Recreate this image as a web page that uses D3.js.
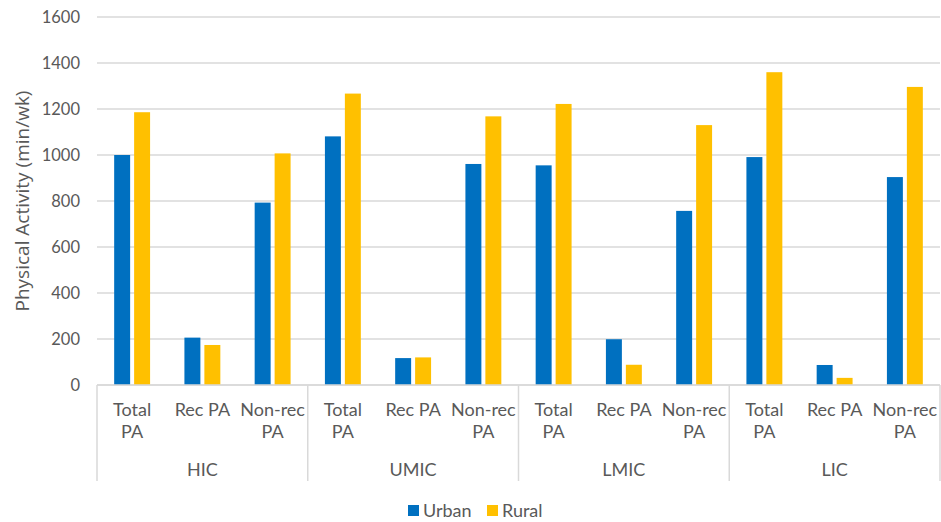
<!DOCTYPE html>
<html>
<head>
<meta charset="utf-8">
<script src="https://cdn.jsdelivr.net/npm/d3@7"></script>
<style>
  body { margin: 0; background: #fff; }
  svg { display: block; }
</style>
</head>
<body>
<div id="chart"></div>
<script>
const groups = ['HIC', 'UMIC', 'LMIC', 'LIC'];
const subcats = ['Total PA', 'Rec PA', 'Non-rec PA'];
const subLabels = [['Total', 'PA'], ['Rec PA'], ['Non-rec', 'PA']];
const seriesNames = ['Urban', 'Rural'];
const urban = [1000, 206, 793, 1081, 117, 961, 955, 199, 757, 991, 87, 904];
const rural = [1186, 174, 1007, 1267, 120, 1168, 1222, 88, 1130, 1360, 31, 1296];
const yTicks = [0, 200, 400, 600, 800, 1000, 1200, 1400, 1600];

const width = 941;
const height = 522;
const margin = { top: 17, right: 1, bottom: 137, left: 97 };
const palette = ['#0070C0', '#FFC000'];
const textColor = '#595959';
const gridColor = '#d9d9d9';
const tickFont = "'Lato', 'DejaVu Sans', sans-serif";

const rows = [];
groups.forEach((g, gi) => {
  subcats.forEach((s, si) => {
    const i = gi * subcats.length + si;
    rows.push({ key: `${g}|${s}`, group: g, sub: si, values: [urban[i], rural[i]] });
  });
});

const svg = d3.select('#chart').append('svg')
  .attr('width', width)
  .attr('height', height);

const x = d3.scaleBand()
  .domain(rows.map((d) => d.key))
  .range([margin.left, width - margin.right]);

const xInner = d3.scaleBand()
  .domain(seriesNames)
  .range([0, x.bandwidth()])
  .paddingInner(0.2)
  .paddingOuter(0.86);

const y = d3.scaleLinear()
  .domain([0, 1600])
  .range([height - margin.bottom, margin.top]);

// gridlines
svg.append('g')
  .selectAll('line')
  .data(yTicks)
  .join('line')
  .attr('x1', margin.left)
  .attr('x2', width - margin.right)
  .attr('y1', (d) => y(d))
  .attr('y2', (d) => y(d))
  .attr('stroke', gridColor)
  .attr('stroke-width', 1.5);

// y tick labels
svg.append('g')
  .selectAll('text')
  .data(yTicks)
  .join('text')
  .attr('x', margin.left - 17)
  .attr('y', (d) => y(d))
  .attr('text-anchor', 'end')
  .attr('dominant-baseline', 'central')
  .style('font', `16.5px ${tickFont}`)
  .attr('fill', textColor)
  .text((d) => d);

// y title
svg.append('text')
  .attr('transform', `translate(22, ${(margin.top + height - margin.bottom) / 2}) rotate(-90)`)
  .attr('text-anchor', 'middle')
  .attr('dominant-baseline', 'central')
  .style('font', "19px 'Open Sans', sans-serif")
  .attr('fill', textColor)
  .text('Physical Activity (min/wk)');

// bars
const bars = svg.append('g')
  .selectAll('g')
  .data(rows)
  .join('g')
  .attr('transform', (d) => `translate(${x(d.key)}, 0)`);

bars.selectAll('rect')
  .data((d) => d.values.map((v, i) => ({ name: seriesNames[i], value: v })))
  .join('rect')
  .attr('x', (d) => xInner(d.name))
  .attr('width', xInner.bandwidth())
  .attr('y', (d) => y(d.value))
  .attr('height', (d) => y(0) - y(d.value))
  .attr('fill', (d, i) => palette[i]);

// category axis box
const axisTop = y(0);
const axisBottom = 481;
const groupWidth = x.bandwidth() * subcats.length;
const axis = svg.append('g');

axis.append('line')
  .attr('x1', margin.left)
  .attr('x2', width - margin.right)
  .attr('y1', axisTop)
  .attr('y2', axisTop)
  .attr('stroke', gridColor)
  .attr('stroke-width', 1.5);

axis.selectAll('line.sep')
  .data(d3.range(groups.length + 1))
  .join('line')
  .attr('class', 'sep')
  .attr('x1', (i) => margin.left + i * groupWidth)
  .attr('x2', (i) => margin.left + i * groupWidth)
  .attr('y1', axisTop)
  .attr('y2', axisBottom)
  .attr('stroke', gridColor)
  .attr('stroke-width', 1.5);

// subcategory labels
const subText = axis.selectAll('text.sub')
  .data(rows)
  .join('text')
  .attr('class', 'sub')
  .attr('text-anchor', 'middle')
  .style('font', `18px ${tickFont}`)
  .attr('fill', textColor);

subText.selectAll('tspan')
  .data((d) => subLabels[d.sub].map((t) => ({ t, cx: x(d.key) + x.bandwidth() / 2 })))
  .join('tspan')
  .attr('x', (d) => d.cx)
  .attr('y', (d, i) => 416 + i * 22)
  .text((d) => d.t);

// group labels
axis.selectAll('text.grp')
  .data(groups)
  .join('text')
  .attr('class', 'grp')
  .attr('x', (d, i) => margin.left + (i + 0.5) * groupWidth)
  .attr('y', 476)
  .attr('text-anchor', 'middle')
  .style('font', `18px ${tickFont}`)
  .attr('fill', textColor)
  .text((d) => d);

// legend
const legend = svg.append('g').attr('transform', 'translate(408, 510)');
const legendX = [0, 79];
const item = legend.selectAll('g')
  .data(seriesNames)
  .join('g')
  .attr('transform', (d, i) => `translate(${legendX[i]}, 0)`);

item.append('rect')
  .attr('x', 0)
  .attr('y', -5)
  .attr('width', 11)
  .attr('height', 11)
  .attr('fill', (d, i) => palette[i]);

item.append('text')
  .attr('x', 15)
  .attr('y', 0)
  .attr('dominant-baseline', 'central')
  .style('font', `18px ${tickFont}`)
  .attr('fill', textColor)
  .text((d) => d);
</script>
</body>
</html>
